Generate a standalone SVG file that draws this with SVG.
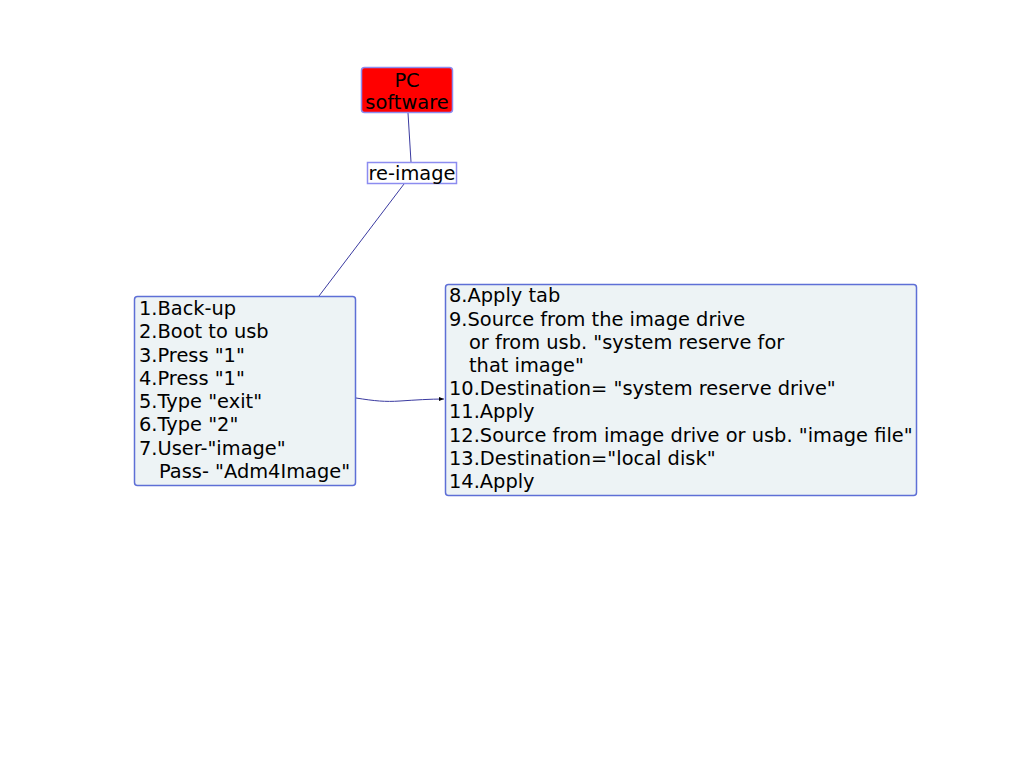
<svg xmlns="http://www.w3.org/2000/svg" width="1017" height="780" viewBox="0 0 1017 780">
<style>
text{font-family:"DejaVu Sans",Verdana,sans-serif;font-size:19.4px;fill:#000}
.box{fill:#edf3f5;stroke:#5e6fd6;stroke-width:1.5}
.conn{fill:none;stroke:#3a3aa0;stroke-width:1}
</style>
<defs>
<marker id="ah" markerWidth="6" markerHeight="6" refX="5" refY="3" orient="auto" markerUnits="userSpaceOnUse">
<path d="M0,1 L5,3 L0,5 z" fill="#000"/>
</marker>
</defs>
<rect width="1017" height="780" fill="#fff"/>
<g id="connectors">
<path class="conn" d="M408,113 L411,162"/>
<path class="conn" d="M404,184 L319,296"/>
<path class="conn" d="M356,398 C375,401 385,402 400,401 C415,400 430,399 444,399" marker-end="url(#ah)"/>
</g>
<g id="pc-software">
<rect x="361.5" y="67.5" width="91" height="45" rx="3" fill="#ff0000" stroke="#8c8cf0" stroke-width="1.5"/>
<text x="407" y="86.5" text-anchor="middle">PC</text>
<text x="407" y="108.5" text-anchor="middle">software</text>
</g>
<g id="re-image">
<rect x="367.5" y="162.5" width="89" height="21" fill="#fff" stroke="#8c8cf0" stroke-width="1.5"/>
<text x="412" y="179.5" text-anchor="middle">re-image</text>
</g>
<g id="steps-1-7">
<rect class="box" x="134.5" y="296.5" width="221" height="189" rx="3"/>
<text x="139" y="315">1.Back-up</text>
<text x="139" y="338">2.Boot to usb</text>
<text x="139" y="361.5">3.Press "1"</text>
<text x="139" y="385">4.Press "1"</text>
<text x="139" y="408">5.Type "exit"</text>
<text x="139" y="431">6.Type "2"</text>
<text x="139" y="454.5">7.User-"image"</text>
<text x="159" y="478">Pass- "Adm4Image"</text>
</g>
<g id="steps-8-14">
<rect class="box" x="445.5" y="284.5" width="471" height="211" rx="3"/>
<text x="449" y="302">8.Apply tab</text>
<text x="449" y="325.5">9.Source from the image drive</text>
<text x="469" y="348.5">or from usb. "system reserve for</text>
<text x="469" y="372">that image"</text>
<text x="449" y="395">10.Destination= "system reserve drive"</text>
<text x="449" y="418">11.Apply</text>
<text x="449" y="441.5">12.Source from image drive or usb. "image file"</text>
<text x="449" y="465">13.Destination="local disk"</text>
<text x="449" y="488">14.Apply</text>
</g>
</svg>
